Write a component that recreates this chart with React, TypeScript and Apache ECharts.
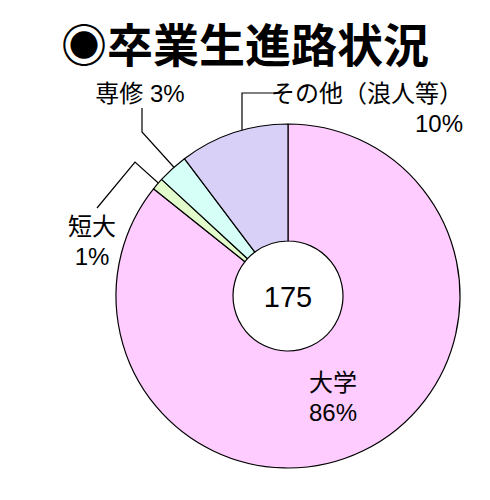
import { useEffect, useRef } from "react";
import * as echarts from "echarts";

const titleText = "◉卒業生進路状況";
const categories = ["大学", "短大", "専修", "その他（浪人等）"];
const counts = [150, 2, 5, 18];
const sliceColors = ["#ffccff", "#e2fccc", "#d6fff8", "#d8d0f7"];

const FONT = '"Liberation Sans", "Noto Sans CJK JP", sans-serif';

// label anchor and leader line for each slice (pixel space of the 490x500 chart)
const labelSpots: {
  x: number;
  y: number;
  align: "left" | "center" | "right";
  line?: number[][];
}[] = [
  { x: 333, y: 397, align: "center" },
  { x: 92, y: 241, align: "center", line: [[175, 198], [135, 162], [97, 208]] },
  { x: 140, y: 93, align: "center", line: [[190, 185], [142, 132], [142, 108]] },
  { x: 463, y: 108, align: "right", line: [[242, 158], [242, 93], [280, 93]] },
];

export default function App() {
  const reference = useRef<HTMLDivElement>(null);

  useEffect(() => {
    const element = reference.current;
    if (element === null) return;
    const chart = echarts.init(element, undefined, { renderer: "svg" });
    const total = counts.reduce((sum, value) => sum + value, 0);

    chart.setOption({
      animation: false,
      title: {
        text: titleText,
        left: "center",
        top: 14,
        textStyle: {
          fontFamily: '"Noto Sans CJK JP", sans-serif',
          fontSize: 46,
          fontWeight: "bold",
          color: "#000",
        },
      },
      graphic: [
        {
          type: "text",
          x: 288,
          y: 297,
          z: 10,
          style: {
            text: String(total),
            align: "center",
            verticalAlign: "middle",
            fontFamily: FONT,
            fontSize: 29,
            fill: "#000",
          },
        },
      ],
      series: [
        {
          type: "pie",
          center: [288, 296],
          radius: [55, 172],
          startAngle: 90,
          clockwise: true,
          avoidLabelOverlap: false,
          percentPrecision: 0,
          emphasis: { disabled: true },
          itemStyle: { borderColor: "#000", borderWidth: 1.2 },
          label: {
            show: true,
            position: "outside",
            fontFamily: FONT,
            fontSize: 24,
            lineHeight: 30,
            color: "#000",
            formatter: (params: { name: string; percent: number; dataIndex: number }) =>
              params.dataIndex === 2
                ? `${params.name} ${params.percent}%`
                : `${params.name}\n${params.percent}%`,
          },
          labelLine: {
            show: true,
            lineStyle: { color: "#000", width: 1.2 },
          },
          labelLayout: (params: { dataIndex: number }) => {
            const spot = labelSpots[params.dataIndex];
            return {
              x: spot.x,
              y: spot.y,
              align: spot.align,
              verticalAlign: "middle",
              labelLinePoints: spot.line,
            };
          },
          data: categories.map((name, index) => ({
            name,
            value: counts[index],
            itemStyle: { color: sliceColors[index] },
            label:
              index === 3 ? { align: "right" } : { align: "center" },
            labelLine: { show: index !== 0 },
          })),
        },
      ],
    });

    return () => chart.dispose();
  }, []);

  return (
    <div
      ref={reference}
      style={{
        position: "fixed",
        left: 0,
        top: 0,
        width: 490,
        height: 500,
        background: "#fff",
      }}
    />
  );
}
